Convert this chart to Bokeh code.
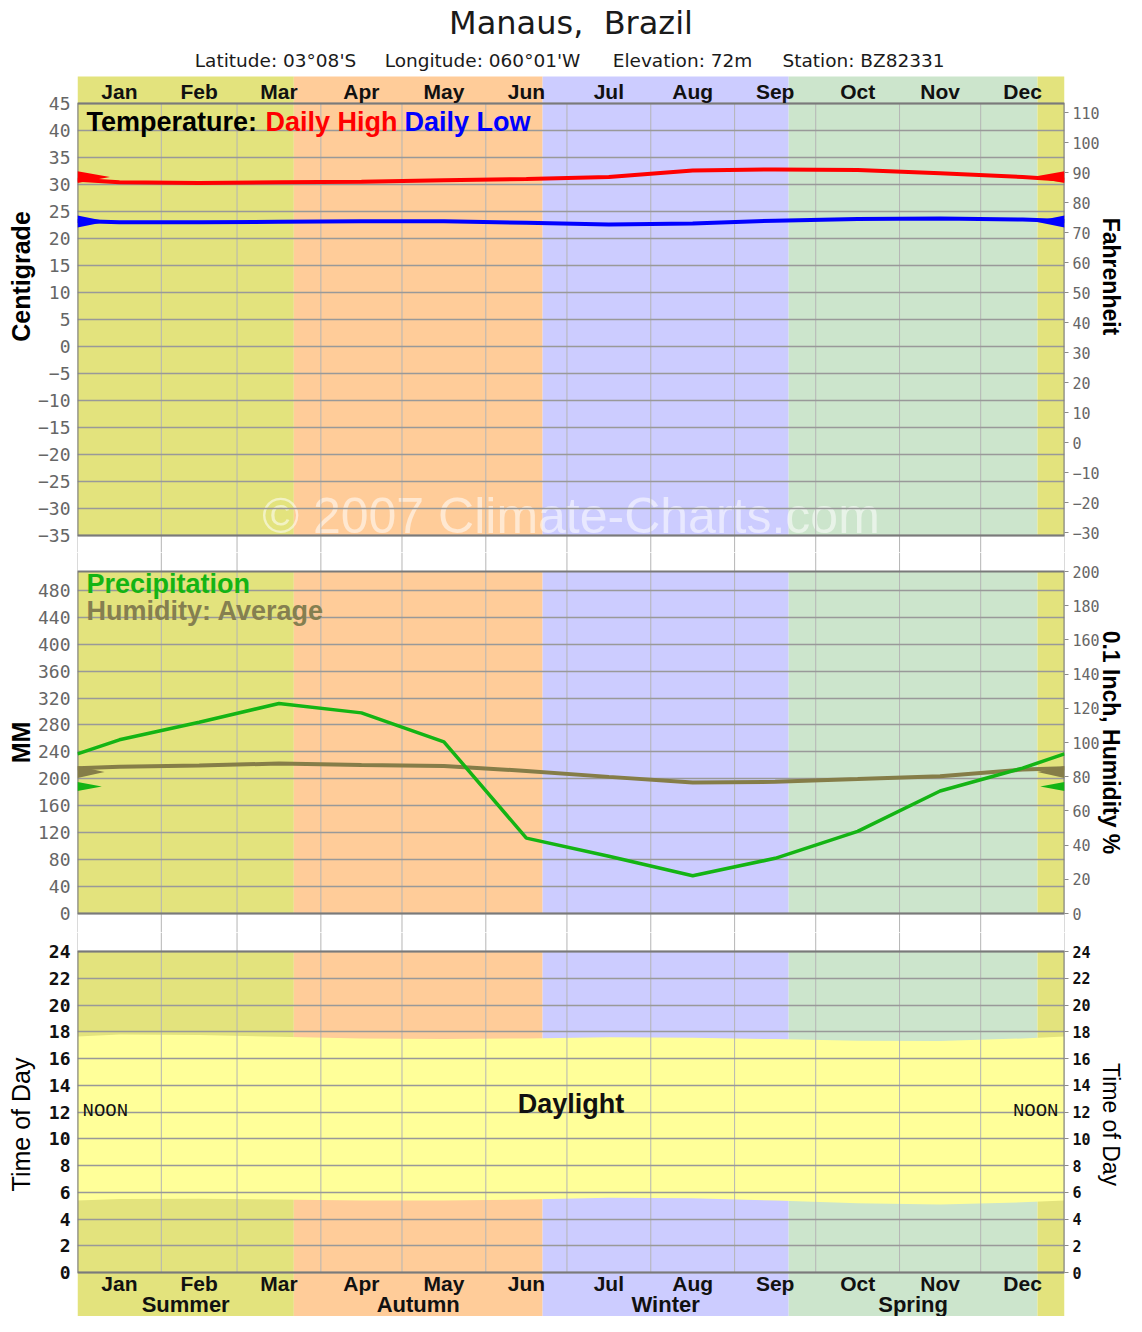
import numpy as np
from bokeh.plotting import figure
from bokeh.models import Range1d, LinearAxis, FixedTicker, Grid
from bokeh.layouts import column
from bokeh.core.properties import value
from bokeh.embed import file_html
from bokeh.resources import INLINE

# ---------------- data ----------------
months = ["Jan", "Feb", "Mar", "Apr", "May", "Jun", "Jul", "Aug", "Sep", "Oct", "Nov", "Dec"]
month_lengths = [31, 28, 31, 30, 31, 30, 31, 31, 30, 31, 30, 31]
temp_high_c = [30.4, 30.3, 30.4, 30.5, 30.8, 31.0, 31.4, 32.6, 32.8, 32.7, 32.1, 31.4]
temp_low_c = [23.0, 23.0, 23.1, 23.2, 23.2, 22.9, 22.6, 22.8, 23.3, 23.6, 23.7, 23.5]
precip_mm = [258, 284, 312, 298, 255, 112, 85, 56, 82, 122, 182, 216]
humidity_pct = [85.8, 86.5, 87.7, 86.9, 86.3, 83.4, 79.9, 76.6, 77.0, 78.6, 80.3, 84.2]
sunrise_hour = [5.50, 5.52, 5.45, 5.38, 5.38, 5.45, 5.58, 5.55, 5.38, 5.18, 5.08, 5.25]
sunset_hour = [17.80, 17.75, 17.62, 17.50, 17.45, 17.50, 17.58, 17.55, 17.45, 17.32, 17.30, 17.50]

season_names = ["Summer", "Autumn", "Winter", "Spring", "Summer"]
season_start_day = [0, 80, 172, 263, 355]
season_end_day = [80, 172, 263, 355, 365]
season_colors = ["#e3e37d", "#ffcc99", "#ccccff", "#cce5cc", "#e3e37d"]

celsius_ticks = list(range(-35, 50, 5))
fahrenheit_ticks = list(range(-30, 120, 10))
mm_ticks = list(range(0, 481, 40))
tenth_inch_ticks = list(range(0, 201, 20))
hour_ticks = list(range(0, 25, 2))

title_text = "Manaus,\u00a0 Brazil"
subtitle_parts = ["Latitude: 03°08'S", "Longitude: 060°01'W", "Elevation: 72m", "Station: BZ82331"]
watermark = "© 2007 Climate-Charts.com"

# ---------------- derived ----------------
month_start = np.concatenate([[0], np.cumsum(month_lengths)]).astype(float)
month_mid = month_start[:-1] + np.array(month_lengths) / 2.0
YEAR = float(month_start[-1])


def wrap(vals):
    edge = (vals[0] + vals[-1]) / 2.0
    return [0.0] + list(month_mid) + [YEAR], [edge] + list(vals) + [edge]


SANS = "Liberation Sans"
DJ = "DejaVu Sans"
MONO = "DejaVu Sans Mono"
HGRID = "#999999"
VGRID = "#b5b5b5"
FRAME = "#7a7a7a"
TICKLAB = "#666666"


def minus(ticks):
    d = {}
    for t in ticks:
        s = str(t).replace("-", "\u2212")
        d[t] = s
        d[str(t)] = s
    return d


def make_fig(height, y0, y1):
    p = figure(width=1126, height=height, x_range=Range1d(0, YEAR), y_range=Range1d(y0, y1),
               x_axis_type=None, y_axis_type=None, output_backend="svg", toolbar_location=None,
               min_border_left=77, min_border_right=62, min_border_top=0, min_border_bottom=0)
    p.outline_line_color = None
    p.background_fill_color = "white"
    p.border_fill_color = "white"
    return p


def backgrounds(p, bottom, top):
    p.quad(left=season_start_day, right=season_end_day, bottom=bottom, top=top,
           fill_color=season_colors, line_color=None, level="image")


def grids(p, ticks, vlo, vhi):
    p.segment(x0=list(month_start), y0=vlo, x1=list(month_start), y1=vhi,
              line_color=VGRID, line_width=1, level="underlay")
    p.add_layout(Grid(dimension=1, ticker=FixedTicker(ticks=ticks), grid_line_color=HGRID,
                      grid_line_width=1.6), "center")


def frame(p, lo, hi):
    p.quad(left=[0], right=[YEAR], bottom=[lo], top=[hi], fill_color=None,
           line_color=FRAME, line_width=2)


def left_axis(p, ticks, bounds, label, label_style="bold", tick_bold=False, tick_color=TICKLAB,
              standoff=0, range_name="default"):
    ax = LinearAxis(y_range_name=range_name, ticker=FixedTicker(ticks=ticks), bounds=bounds,
                    axis_label=label, major_label_overrides=minus(ticks))
    ax.axis_line_color = None
    ax.major_tick_line_color = None
    ax.major_tick_out = 0
    ax.major_tick_in = 0
    ax.minor_tick_line_color = None
    ax.major_label_standoff = 7
    ax.major_label_text_font = MONO
    ax.major_label_text_font_size = "18px"
    ax.major_label_text_color = tick_color
    ax.major_label_text_font_style = "bold" if tick_bold else "normal"
    ax.axis_label_text_font = SANS
    ax.axis_label_text_font_size = "25px"
    ax.axis_label_text_font_style = label_style
    ax.axis_label_text_color = "black"
    ax.axis_label_standoff = standoff
    p.add_layout(ax, "left")


def right_axis(p, ticks, bounds, label, label_style="bold", tick_bold=False, tick_color=TICKLAB,
               standoff=-5, range_name="default"):
    ax = LinearAxis(y_range_name=range_name, ticker=FixedTicker(ticks=ticks), bounds=bounds,
                    axis_label=label, major_label_overrides=minus(ticks))
    ax.axis_line_color = None
    ax.major_tick_line_color = "#8a8a8a"
    ax.major_tick_out = 4
    ax.major_tick_in = 0
    ax.minor_tick_line_color = None
    ax.major_label_standoff = 4
    ax.major_label_text_font = MONO
    ax.major_label_text_font_size = "15px"
    ax.major_label_text_color = tick_color
    ax.major_label_text_font_style = "bold" if tick_bold else "normal"
    ax.axis_label_text_font = SANS
    ax.axis_label_text_font_size = "23px"
    ax.axis_label_text_font_style = label_style
    ax.axis_label_text_color = "black"
    ax.axis_label_standoff = standoff
    p.add_layout(ax, "right")


def wedge_marks(p, mean, half, length, color, range_name="default"):
    xs = [[0, 0, length], [YEAR, YEAR, YEAR - length]]
    ys = [[mean - half, mean + half, mean], [mean - half, mean + half, mean]]
    p.patches(xs=xs, ys=ys, fill_color=color, line_color=None, y_range_name=range_name)


# ================= Panel A: temperature =================
C_PX = 5.4                      # pixels per degree C
A_TOP = 45 + 103 / C_PX          # figure top (title area)
A_BOT = -35 - (552 - 535) / C_PX  # figure bottom (part of gap)
STRIP_TOP = 45 + (103 - 76) / C_PX

pA = make_fig(552, A_BOT, A_TOP)
pA.extra_y_ranges = {"F": Range1d(32 + 1.8 * A_BOT, 32 + 1.8 * A_TOP)}
backgrounds(pA, -35, STRIP_TOP)
pA.text(x=[YEAR / 2], y=[-35], text=[watermark], text_font=value(SANS), text_font_size="50px",
        text_color="white", text_alpha=0.55, text_align="center", text_baseline="middle",
        y_offset=-20, level="image")
grids(pA, celsius_ticks, A_BOT, 45)
frame(pA, -35, 45)

hx, hy = wrap(temp_high_c)
lx, ly = wrap(temp_low_c)
pA.line(hx, hy, line_color="#ff0000", line_width=4)
pA.line(lx, ly, line_color="#0000ff", line_width=4)
wedge_marks(pA, float(np.mean(temp_high_c)), 1.1, 12, "#ff0000")
wedge_marks(pA, float(np.mean(temp_low_c)), 1.1, 11, "#0000ff")

left_axis(pA, celsius_ticks, (-35, 45), "Centigrade")
right_axis(pA, fahrenheit_ticks, (-30, 110), "Fahrenheit", range_name="F")

# title + subtitle
pA.text(x=[YEAR / 2], y=[45], text=[title_text], text_font=value(DJ), text_font_size="32px",
        text_color="#1a1a1a", text_align="center", text_baseline="middle", y_offset=-81)
sub_px = [275, 482, 682, 863]
for s, px in zip(subtitle_parts, sub_px):
    pA.text(x=[0], y=[45], text=[s], text_font=value(DJ), text_font_size="18.5px",
            text_color="#1a1a1a", text_align="center", text_baseline="middle",
            x_offset=px - 77, y_offset=-43)
# top month labels
pA.text(x=list(month_mid), y=[45] * 12, text=months, text_font=value(SANS), text_font_style="bold",
        text_font_size="21px", text_color="#111111", text_align="center", text_baseline="middle",
        y_offset=-12)
# legend
for txt, col, off in [("Temperature:", "black", 9), ("Daily High", "#ff0000", 188), ("Daily Low", "#0000ff", 327)]:
    pA.text(x=[0], y=[45], text=[txt], text_font=value(SANS), text_font_style="bold",
            text_font_size="27px", text_color=col, text_align="left", text_baseline="middle",
            x_offset=off, y_offset=18)

# ================= Panel B: precipitation / humidity =================
MM_PX = (913 - 571) / 508.0
B_TOP = 508 + (571 - 552) / MM_PX
B_BOT = -(932 - 913) / MM_PX

pB = make_fig(380, B_BOT, B_TOP)
pB.extra_y_ranges = {"in": Range1d(B_BOT / 2.54, B_TOP / 2.54)}
backgrounds(pB, 0, 508)
grids(pB, mm_ticks, B_BOT, B_TOP)
frame(pB, 0, 508)

ux, uy = wrap(humidity_pct)
px_, py_ = wrap(precip_mm)
pB.line(ux, uy, line_color="#857d48", line_width=4, y_range_name="in")
pB.line(px_, py_, line_color="#14b414", line_width=3.5)
wedge_marks(pB, float(np.mean(humidity_pct)), 3.5, 10, "#857d48", range_name="in")
wedge_marks(pB, float(np.mean(precip_mm)), 6.7, 9, "#14b414")

left_axis(pB, mm_ticks, (0, 508), "MM")
right_axis(pB, tenth_inch_ticks, (0, 200), "0.1 Inch, Humidity %", range_name="in")

pB.text(x=[0], y=[508], text=["Precipitation"], text_font=value(SANS), text_font_style="bold",
        text_font_size="27px", text_color="#14b414", text_align="left", text_baseline="middle",
        x_offset=9, y_offset=12)
pB.text(x=[0], y=[508], text=["Humidity: Average"], text_font=value(SANS), text_font_style="bold",
        text_font_size="27px", text_color="#857f50", text_align="left", text_baseline="middle",
        x_offset=9, y_offset=39)

# ================= Panel C: daylight =================
H_PX = (1272 - 951) / 24.0
C_TOP = 24 + (951 - 932) / H_PX
C_BOT = -(1316 - 1272) / H_PX

pC = make_fig(384, C_BOT, C_TOP)
backgrounds(pC, C_BOT, 24)
dx, rise = wrap(sunrise_hour)
_, sets = wrap(sunset_hour)
pC.varea(x=dx, y1=rise, y2=sets, fill_color="#ffff99", level="image")
grids(pC, hour_ticks, 0, C_TOP)
frame(pC, 0, 24)

left_axis(pC, hour_ticks, (0, 24), "Time of Day", label_style="normal", tick_bold=True,
          tick_color="#111111", standoff=11)
right_axis(pC, hour_ticks, (0, 24), "Time of Day", label_style="normal", tick_bold=True,
           tick_color="#111111", standoff=4)

pC.text(x=[YEAR / 2], y=[12], text=["Daylight"], text_font=value(SANS), text_font_style="bold",
        text_font_size="27px", text_color="#111111", text_align="center", text_baseline="middle",
        y_offset=-8)
pC.text(x=[0], y=[12], text=["NOON"], text_font=value("Liberation Mono"), text_font_size="19px",
        text_color="#111111", text_align="left", text_baseline="middle", x_offset=5, y_offset=-1)
pC.text(x=[YEAR], y=[12], text=["NOON"], text_font=value("Liberation Mono"), text_font_size="19px",
        text_color="#111111", text_align="right", text_baseline="middle", x_offset=-6, y_offset=-1)

pC.text(x=list(month_mid), y=[0] * 12, text=months, text_font=value(SANS), text_font_style="bold",
        text_font_size="21px", text_color="#111111", text_align="center", text_baseline="middle",
        y_offset=11)
season_mid = [(a + b) / 2 for a, b in zip(season_start_day[:4], season_end_day[:4])]
pC.text(x=season_mid, y=[0] * 4, text=season_names[:4], text_font=value(SANS), text_font_style="bold",
        text_font_size="22px", text_color="#111111", text_align="center", text_baseline="middle",
        y_offset=32)

layout = column(pA, pB, pC)
open("out.html", "w").write(file_html(layout, INLINE))
